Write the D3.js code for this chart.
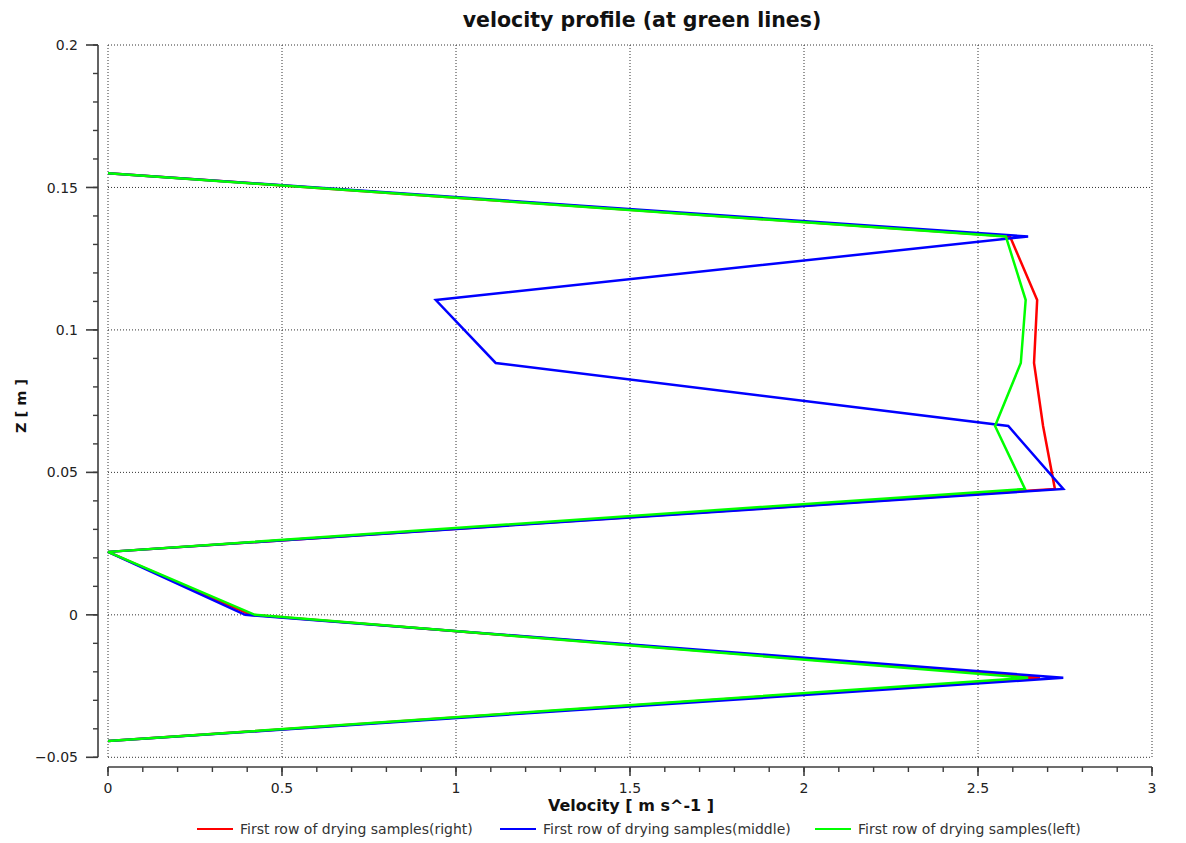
<!DOCTYPE html>
<html>
<head>
<meta charset="utf-8">
<script src="https://cdn.jsdelivr.net/npm/d3@7"></script>
<style>
  html, body { margin: 0; padding: 0; background: #fff; }
  svg { display: block; font-family: "DejaVu Sans", Verdana, sans-serif; }
</style>
</head>
<body>
<svg id="chart" width="1186" height="843"></svg>
<script>
// Height levels (m) where velocity was sampled
const zLevels = [0.155, 0.1328, 0.1105, 0.0884, 0.0663, 0.0442, 0.0221, 0, -0.0221, -0.0443];

// Velocity (m/s) at each level, one array per sample row
const velRight  = [0, 2.592, 2.670, 2.661, 2.687, 2.721, 0, 0.410, 2.678, 0];
const velMiddle = [0, 2.644, 0.942, 1.114, 2.587, 2.745, 0, 0.394, 2.745, 0];
const velLeft   = [0, 2.580, 2.637, 2.623, 2.549, 2.635, 0, 0.422, 2.644, 0];

const seriesNames  = ["First row of drying samples(right)", "First row of drying samples(middle)", "First row of drying samples(left)"];
const seriesColors = ["#ff0000", "#0000ff", "#00ff00"];

const xTicks = [0, 0.5, 1, 1.5, 2, 2.5, 3];
const yTicks = [-0.05, 0, 0.05, 0.1, 0.15, 0.2];

const titleText = "velocity profile (at green lines)";
const xTitle = "Velocity [ m s^-1 ]";
const yTitle = "Z [ m ]";

const svg = d3.select("#chart");

const x = d3.scaleLinear().domain([0, 3]).range([108, 1152]);
const y = d3.scaleLinear().domain([-0.05, 0.2]).range([757.3, 45]);

const axisColor = "#3c3c3c";
const gridColor = "#333333";

// dotted grid
const grid = svg.append("g");
grid.selectAll("line.gx").data(xTicks).join("line")
  .attr("x1", d => x(d)).attr("x2", d => x(d))
  .attr("y1", y(0.2)).attr("y2", y(-0.05))
  .attr("stroke", gridColor).attr("stroke-width", 1)
  .attr("stroke-dasharray", "1,2");
grid.selectAll("line.gy").data(yTicks).join("line")
  .attr("y1", d => y(d)).attr("y2", d => y(d))
  .attr("x1", x(0)).attr("x2", x(3))
  .attr("stroke", gridColor).attr("stroke-width", 1)
  .attr("stroke-dasharray", "1,2");

// y axis (offset left of the plot)
const yMinor = d3.range(-0.05, 0.2001, 0.01).map(v => +v.toFixed(3));
const yAxis = svg.append("g").attr("transform", "translate(98,0)");
yAxis.append("line")
  .attr("x1", 0).attr("x2", 0)
  .attr("y1", y(0.2)).attr("y2", y(-0.05))
  .attr("stroke", axisColor).attr("stroke-width", 1.6);
yAxis.selectAll("line.minor").data(yMinor).join("line")
  .attr("x1", -5).attr("x2", 0)
  .attr("y1", d => y(d)).attr("y2", d => y(d))
  .attr("stroke", axisColor).attr("stroke-width", 1.4);
yAxis.selectAll("line.major").data(yTicks).join("line")
  .attr("x1", -12).attr("x2", 0)
  .attr("y1", d => y(d)).attr("y2", d => y(d))
  .attr("stroke", axisColor).attr("stroke-width", 1.6);
yAxis.selectAll("text").data(yTicks).join("text")
  .attr("x", -20).attr("y", d => y(d))
  .attr("dy", "0.36em")
  .attr("text-anchor", "end")
  .attr("font-size", 14)
  .attr("fill", "#222")
  .text(d => d3.format("")(d));

// x axis (offset below the plot)
const xMinor = d3.range(0, 3.0001, 0.1).map(v => +v.toFixed(2));
const xAxis = svg.append("g").attr("transform", "translate(0,767)");
xAxis.append("line")
  .attr("x1", x(0)).attr("x2", x(3))
  .attr("y1", 0).attr("y2", 0)
  .attr("stroke", axisColor).attr("stroke-width", 1.6);
xAxis.selectAll("line.minor").data(xMinor).join("line")
  .attr("x1", d => x(d)).attr("x2", d => x(d))
  .attr("y1", 0).attr("y2", 5)
  .attr("stroke", axisColor).attr("stroke-width", 1.4);
xAxis.selectAll("line.major").data(xTicks).join("line")
  .attr("x1", d => x(d)).attr("x2", d => x(d))
  .attr("y1", 0).attr("y2", 9)
  .attr("stroke", axisColor).attr("stroke-width", 1.6);
xAxis.selectAll("text").data(xTicks).join("text")
  .attr("x", d => x(d)).attr("y", 25.5)
  .attr("text-anchor", "middle")
  .attr("font-size", 14)
  .attr("fill", "#222")
  .text(d => d3.format("")(d));

// profiles
const allSeries = [velRight, velMiddle, velLeft];
const line = d3.line()
  .x(d => x(d.v))
  .y(d => y(d.z));
allSeries.forEach((vals, i) => {
  const pts = vals.map((v, k) => ({ v: v, z: zLevels[k] }));
  svg.append("path")
    .datum(pts)
    .attr("d", line)
    .attr("fill", "none")
    .attr("stroke", seriesColors[i])
    .attr("stroke-width", 2.5)
    .attr("stroke-linejoin", "miter");
});

// titles
svg.append("text")
  .attr("x", 642).attr("y", 27)
  .attr("text-anchor", "middle")
  .attr("font-size", 20.5)
  .attr("font-weight", "bold")
  .attr("fill", "#111")
  .text(titleText);

svg.append("text")
  .attr("x", 631).attr("y", 811)
  .attr("text-anchor", "middle")
  .attr("font-size", 16)
  .attr("font-weight", "bold")
  .attr("fill", "#111")
  .text(xTitle);

svg.append("text")
  .attr("transform", "translate(26,406) rotate(-90)")
  .attr("text-anchor", "middle")
  .attr("font-size", 14.5)
  .attr("font-weight", "bold")
  .attr("fill", "#111")
  .text(yTitle);

// legend
const legendX = [197, 500, 815];
const legend = svg.append("g").attr("transform", "translate(0,829)");
seriesNames.forEach((name, i) => {
  const g = legend.append("g").attr("transform", `translate(${legendX[i]},0)`);
  g.append("line")
    .attr("x1", 0).attr("x2", 36).attr("y1", 0).attr("y2", 0)
    .attr("stroke", seriesColors[i]).attr("stroke-width", 2.2);
  g.append("text")
    .attr("x", 43).attr("y", 0).attr("dy", "0.35em")
    .attr("font-size", 14)
    .attr("fill", "#333")
    .text(name);
});
</script>
</body>
</html>
